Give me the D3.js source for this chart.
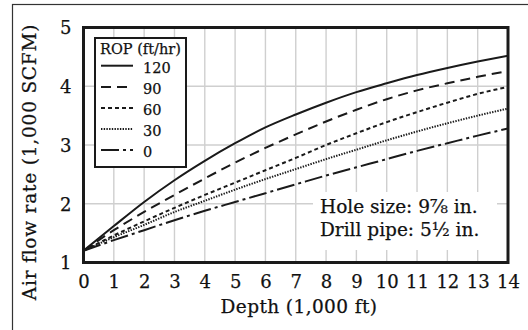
<!DOCTYPE html>
<html>
<head>
<meta charset="utf-8">
<script src="https://cdn.jsdelivr.net/npm/d3@7"></script>
<style>
  html, body { margin: 0; padding: 0; background: #fff; }
  svg { display: block; }
  text { font-family: "DejaVu Serif", serif; fill: #111; stroke: #111; stroke-width: 0.25px; }
</style>
</head>
<body>
<svg id="chart" width="528" height="330"></svg>
<script>
// Depth in thousands of feet
const depths = [0, 1, 2, 3, 4, 5, 6, 7, 8, 9, 10, 11, 12, 13, 14];

// Required air flow rate (1,000 SCFM) for each rate of penetration
const rop120 = [1.2, 1.62, 2.03, 2.40, 2.73, 3.03, 3.30, 3.52, 3.72, 3.90, 4.05, 4.19, 4.31, 4.42, 4.52];
const rop90  = [1.2, 1.55, 1.86, 2.15, 2.43, 2.70, 2.95, 3.18, 3.40, 3.60, 3.78, 3.93, 4.05, 4.16, 4.26];
const rop60  = [1.2, 1.46, 1.70, 1.93, 2.15, 2.36, 2.57, 2.78, 3.00, 3.20, 3.39, 3.56, 3.72, 3.87, 3.99];
const rop30  = [1.2, 1.43, 1.64, 1.86, 2.05, 2.24, 2.42, 2.59, 2.76, 2.92, 3.08, 3.23, 3.37, 3.50, 3.62];
const rop0   = [1.2, 1.38, 1.55, 1.72, 1.88, 2.03, 2.18, 2.33, 2.48, 2.62, 2.76, 2.90, 3.03, 3.16, 3.28];

const seriesNames = ["120", "90", "60", "30", "0"];
const seriesValues = [rop120, rop90, rop60, rop30, rop0];

const xTicks = [0, 1, 2, 3, 4, 5, 6, 7, 8, 9, 10, 11, 12, 13, 14];
const yTicks = [1, 2, 3, 4, 5];

// Line styles per series
const dashes = [null, "10,6", "4,3", "1.4,1.3", "18,4,3,4"];
const widths = [2, 2, 2, 2, 2];

const svg = d3.select("#chart");

const x = d3.scaleLinear().domain([0, 14]).range([83.5, 508]);
const y = d3.scaleLinear().domain([1, 5]).range([262.5, 27.5]);

// Outer frame (runs off the right and bottom edges)
svg.append("rect")
  .attr("x", 12.5).attr("y", 4.5)
  .attr("width", 600).attr("height", 400)
  .attr("fill", "none").attr("stroke", "#333").attr("stroke-width", 1.2);

// Grid
const grid = svg.append("g").attr("stroke", "#cfcfcf").attr("stroke-width", 1.4);
grid.selectAll("line.v").data(xTicks.slice(1, -1)).join("line")
  .attr("x1", d => x(d)).attr("x2", d => x(d))
  .attr("y1", y(5)).attr("y2", y(1));
grid.selectAll("line.h").data(yTicks.slice(1, -1)).join("line")
  .attr("x1", x(0)).attr("x2", x(14))
  .attr("y1", d => y(d)).attr("y2", d => y(d));

// White panel behind the hole/pipe note
svg.append("rect")
  .attr("x", 313).attr("y", 192).attr("width", 184).attr("height", 58)
  .attr("fill", "#fff");

// Curves
svg.append("clipPath").attr("id", "plot-clip")
  .append("rect").attr("x", x(0)).attr("y", y(5))
  .attr("width", x(14) - x(0)).attr("height", y(1) - y(5));

const line = d3.line()
  .x((d, i) => x(depths[i]))
  .y(d => y(d))
  .curve(d3.curveMonotoneX);

svg.append("g").attr("clip-path", "url(#plot-clip)")
  .selectAll("path").data(seriesValues).join("path")
  .attr("d", d => line(d))
  .attr("fill", "none")
  .attr("stroke", "#1a1a1a")
  .attr("stroke-width", (d, i) => widths[i])
  .attr("stroke-dasharray", (d, i) => dashes[i]);

// Plot frame
svg.append("rect")
  .attr("x", x(0)).attr("y", y(5))
  .attr("width", x(14) - x(0)).attr("height", y(1) - y(5))
  .attr("fill", "none").attr("stroke", "#1a1a1a").attr("stroke-width", 3);

// Axes (labels only)
const xAxis = svg.append("g")
  .attr("transform", `translate(0,${y(1)})`)
  .call(d3.axisBottom(x).tickValues(xTicks).tickSize(0).tickFormat(d3.format("d")));
xAxis.select(".domain").remove();
xAxis.selectAll("text")
  .attr("y", 25).attr("dy", 0)
  .style("font-family", "DejaVu Serif").style("font-size", "18px");

const yAxis = svg.append("g")
  .attr("transform", `translate(${x(0)},0)`)
  .call(d3.axisLeft(y).tickValues(yTicks).tickSize(0).tickFormat(d3.format("d")));
yAxis.select(".domain").remove();
yAxis.selectAll("text")
  .attr("x", -12).attr("dy", "0.36em")
  .style("font-family", "DejaVu Serif").style("font-size", "18px");

// Axis titles
svg.append("text")
  .attr("x", 299).attr("y", 313)
  .attr("text-anchor", "middle")
  .style("font-size", "18.5px").style("letter-spacing", "0.4px")
  .text("Depth (1,000 ft)");

svg.append("text")
  .attr("transform", "translate(36,162) rotate(-90)")
  .attr("text-anchor", "middle")
  .style("font-size", "18.5px").style("letter-spacing", "0.8px")
  .text("Air flow rate (1,000 SCFM)");

// Note
svg.append("text").attr("x", 320).attr("y", 213)
  .style("font-size", "18.5px").text("Hole size: 9⅞ in.");
svg.append("text").attr("x", 320).attr("y", 236)
  .style("font-size", "18.5px").text("Drill pipe: 5½ in.");

// Legend
const legend = svg.append("g");
legend.append("rect")
  .attr("x", 95).attr("y", 38).attr("width", 91).attr("height", 129)
  .attr("fill", "#fff").attr("stroke", "#1a1a1a").attr("stroke-width", 2);
legend.append("text").attr("x", 100).attr("y", 54)
  .style("font-size", "14.5px").text("ROP (ft/hr)");

const rowBase = [72.7, 94, 115, 136, 157];
const rows = legend.selectAll("g.row").data(seriesNames).join("g").attr("class", "row");
rows.append("line")
  .attr("x1", 101).attr("x2", 133)
  .attr("y1", (d, i) => rowBase[i] - 7).attr("y2", (d, i) => rowBase[i] - 7)
  .attr("stroke", "#1a1a1a")
  .attr("stroke-width", (d, i) => widths[i])
  .attr("stroke-dasharray", (d, i) => dashes[i]);
rows.append("text")
  .attr("x", 143).attr("y", (d, i) => rowBase[i])
  .style("font-size", "14.5px")
  .text(d => d);
</script>
</body>
</html>
